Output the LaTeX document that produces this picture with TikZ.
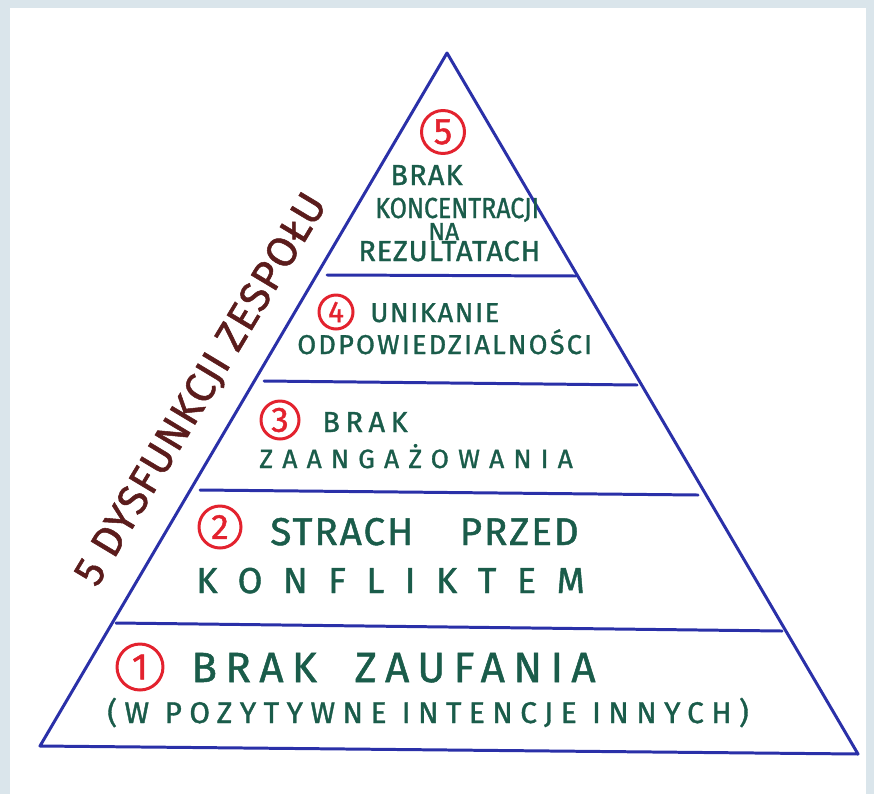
\documentclass[tikz,border=0pt]{standalone}
\usepackage{fontspec}
\setmainfont{Fira Sans}
\newfontfamily\marker{Fira Sans}[FakeBold=1.2]
\definecolor{penblue}{HTML}{2A30A8}
\definecolor{pengreen}{HTML}{1A5C4A}
\definecolor{penred}{HTML}{E3222E}
\definecolor{penbrown}{HTML}{5B1C1C}
\definecolor{paperedge}{HTML}{DAE5EB}
\newcommand{\fs}[1]{\marker\fontsize{#1}{#1}\selectfont}
\newcommand{\ls}[2]{{\addfontfeature{LetterSpace=#1}#2}}

\begin{document}
\begin{tikzpicture}[x=0.02cm, y=-0.02cm]
  % paper
  \fill[paperedge] (0,0) rectangle (874,794);
  \fill[white] (10,8) rectangle (866,794);

  % Pyramid
  \begin{scope}[line width=1.7pt, line cap=round, line join=round]
    \coordinate (top) at (447,53);
    \coordinate (bl) at (40,746);
    \coordinate (br) at (858,754);

    \coordinate (l5) at (327,275);
    \coordinate (r5) at (576,276);
    \coordinate (l4) at (264,381);
    \coordinate (r4) at (637,385);
    \coordinate (l3) at (200,490);
    \coordinate (r3) at (698,495);
    \coordinate (l2) at (116,623);
    \coordinate (r2) at (782,631);

    \draw[penblue] (top) -- (bl) -- (br) -- cycle;

    % Layers
    \draw[penblue] (l5) -- (r5);
    \draw[penblue] (l4) -- (r4);
    \draw[penblue] (l3) -- (r3);
    \draw[penblue] (l2) -- (r2);
  \end{scope}

  % Numbers
  \begin{scope}[every node/.style={draw=penred, text=penred, circle, line width=1.7pt, inner sep=0pt, font=\fs{20}}]
    \node[minimum size=0.86cm, font=\fs{21}] (c5) at (443,132) {5};
    \node[minimum size=0.68cm, font=\fs{17}] (c4) at (336,312) {4};
    \node[minimum size=0.76cm] (c3) at (280,420) {3};
    \node[minimum size=0.84cm] (c2) at (220,527) {2};
    \node[minimum size=0.92cm, font=\fs{21}] (c1) at (140,667) {1};
  \end{scope}

  % Labels
  \begin{scope}[every node/.style={text=pengreen, inner sep=0pt, anchor=base west}]
    \node[font=\fs{16.5}] (t5a) at (390,185) {\ls{4}{BRAK}};
    \node[font=\fs{16.5}] (t5b) at (375,218) {\scalebox{0.86}[1]{KONCENTRACJI}};
    \node[font=\fs{14}] (t5c) at (428,240) {NA};
    \node[font=\fs{16.5}] (t5d) at (358,261) {\ls{3}{REZULTATACH}};

    \node[font=\fs{15.5}] (t4a) at (370,322) {\ls{6}{UNIKANIE}};
    \node[font=\fs{15.5}] (t4b) at (297,354) {\ls{8}{ODPOWIEDZIALNOŚCI}};

    \node[font=\fs{16.5}] (t3a) at (322,432) {\ls{19}{BRAK}};
    \node[font=\fs{15}] (t3b) at (259,468) {\ls{35}{ZAANGAŻOWANIA}};

    \node[font=\fs{22}] (t2a) at (270,545) {\ls{5}{STRACH\hspace{1.2em}PRZED}};
    \node[font=\fs{20.5}] (t2b) at (196,593) {\ls{57}{KONFLIKTEM}};

    \node[font=\fs{24}] (t1a) at (191,682) {\ls{20}{BRAK\hspace{0.9em}ZAUFANIA}};
    \node[font=\fs{17}] (t1b) at (107,723) {\ls{25}{(W POZYTYWNE INTENCJE INNYCH)}};
  \end{scope}

  % Side
  \node[text=penbrown, font=\fs{24}, inner sep=0pt, rotate=59] (side) at (202,390) {\ls{2}{5 DYSFUNKCJI ZESPOŁU}};
\end{tikzpicture}
\end{document}
